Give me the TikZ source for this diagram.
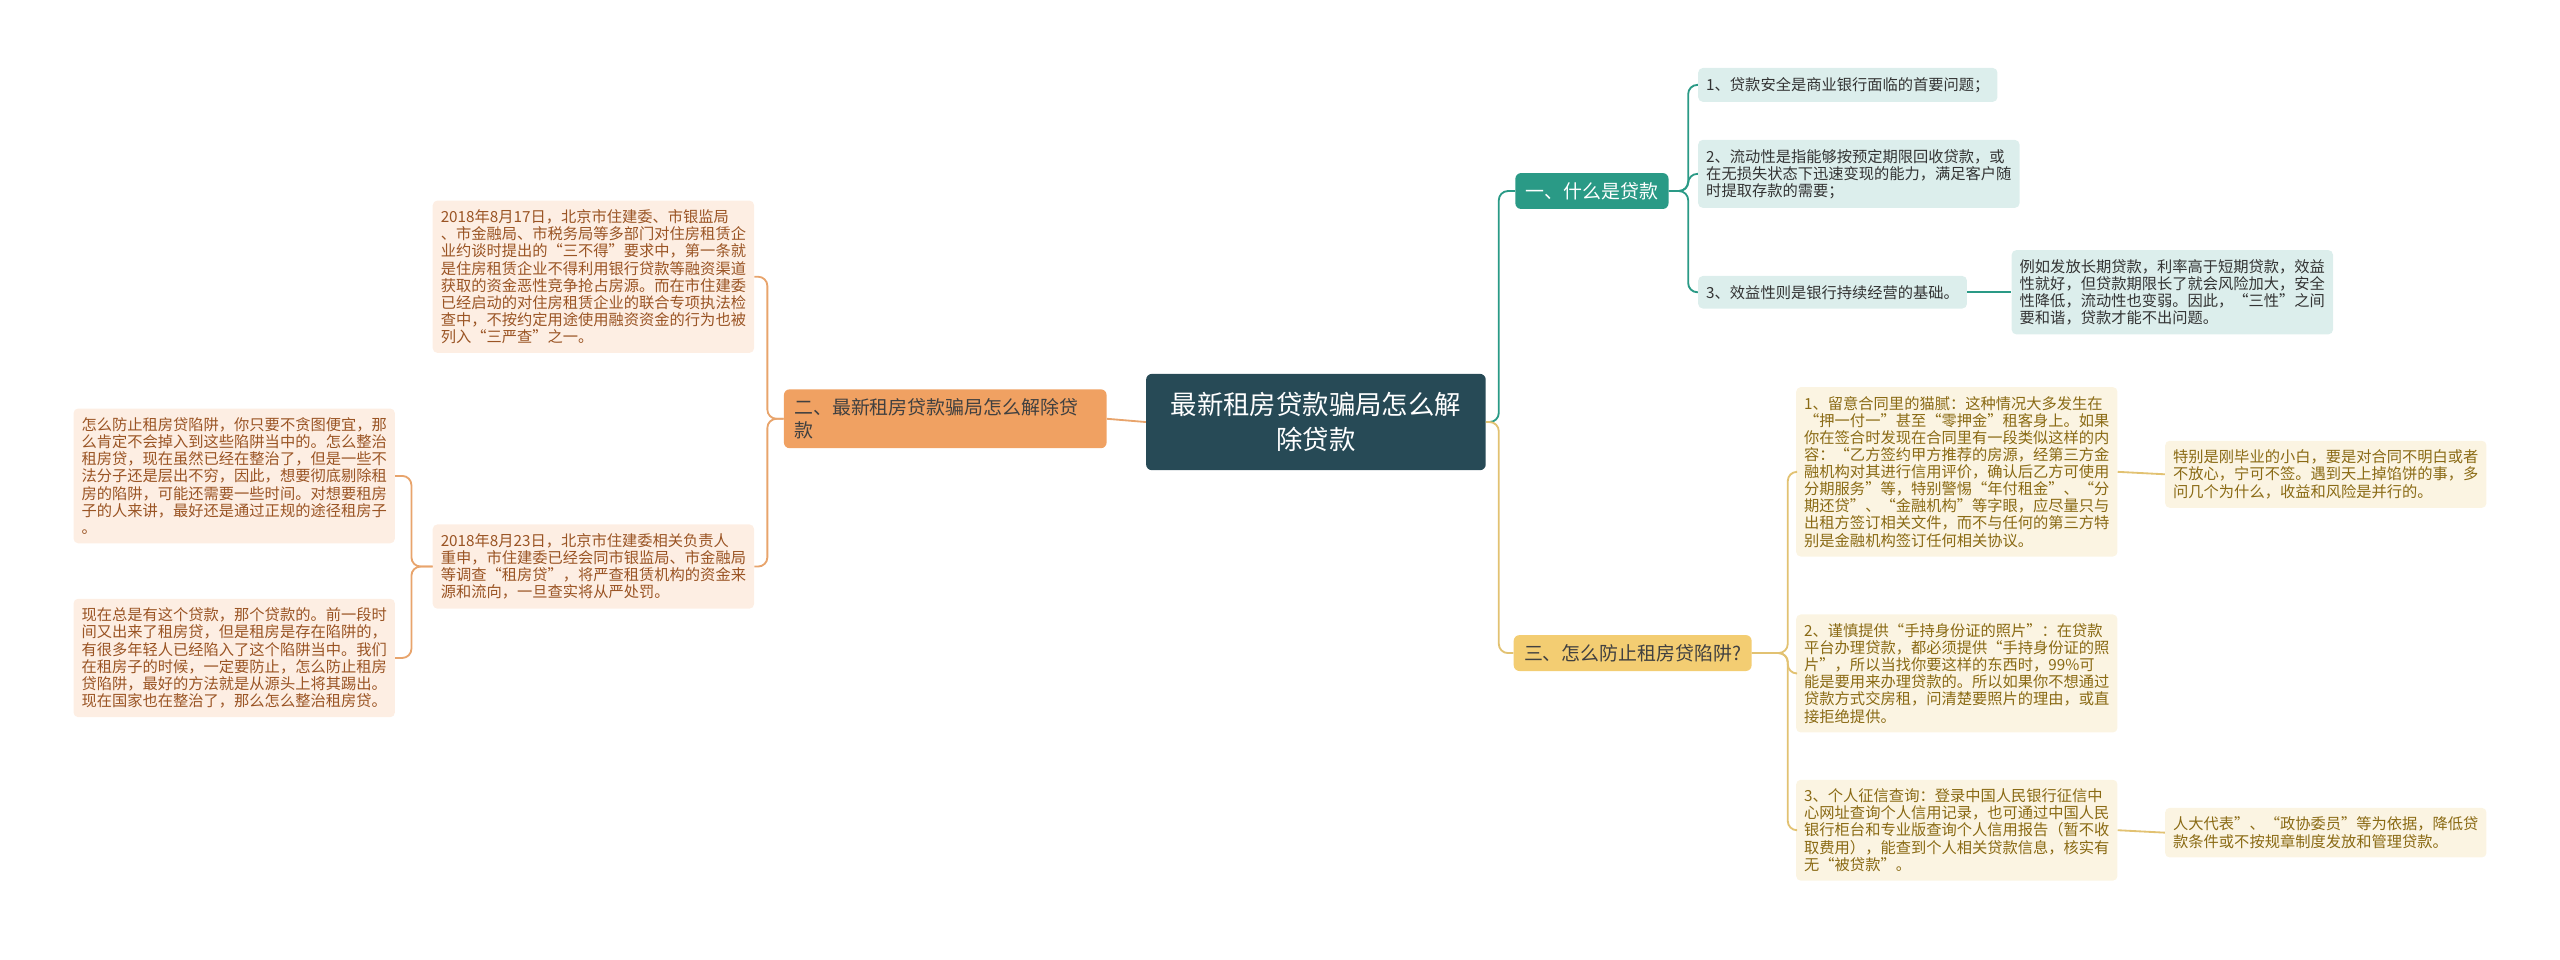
\documentclass[tikz,border=0pt]{standalone}
\usepackage{fontspec}
\setmainfont{Noto Sans CJK SC}
\definecolor{rootc}{HTML}{274A56}
\definecolor{tealc}{HTML}{2A9A86}
\definecolor{teallt}{HTML}{DCEEEC}
\definecolor{orc}{HTML}{F0A162}
\definecolor{orl}{HTML}{E8A46C}
\definecolor{orlt}{HTML}{FDEEE3}
\definecolor{ortx}{HTML}{9A5424}
\definecolor{yec}{HTML}{F3CD72}
\definecolor{yel}{HTML}{E2C272}
\definecolor{yelt}{HTML}{FBF4E2}
\definecolor{yetx}{HTML}{8A6A14}
\tikzset{
 leaf/.style={rounded corners=4pt, inner xsep=7pt, inner ysep=8pt, align=left, anchor=west,
   font=\fontsize{13.3}{14.9}\selectfont},
 tleaf/.style={leaf, fill=teallt, text=black!80},
 oleaf/.style={leaf, fill=orlt, text=ortx},
 yleaf/.style={leaf, fill=yelt, text=yetx},
 branch/.style={rounded corners=5pt, inner xsep=9pt, inner ysep=8pt, align=left, anchor=west,
   font=\fontsize{16.5}{20}\selectfont},
 tl/.style={draw=tealc, line width=1.6pt, rounded corners=8pt},
 ol/.style={draw=orl, line width=1.6pt, rounded corners=8pt},
 yl/.style={draw=yel, line width=1.6pt, rounded corners=8pt},
}
\begin{document}
\begin{tikzpicture}[x=0.05cm, y=-0.05cm]
\useasboundingbox (0,0) rectangle (1568,588);
% root
\node[fill=rootc, text=white, rounded corners=5pt, align=center, minimum width=208*0.05cm, minimum height=59*0.05cm,
  font=\fontsize{23}{30}\selectfont] (root) at (806,258.5) {最新租房贷款骗局怎么解\\除贷款};
% branches
\node[branch, fill=tealc, text=white] (b1) at (928,117) {一、什么是贷款};
\node[branch, fill=orc, text=black!75, text width=185*0.05cm] (b2) at (480,256.5) {二、最新租房贷款骗局怎么解除贷\\款};
\node[branch, fill=yec, text=black!75] (b3) at (927,400) {三、怎么防止租房贷陷阱?};
% teal leaves
\node[tleaf] (c1) at (1040,52) {1、贷款安全是商业银行面临的首要问题；};
\node[tleaf] (c2) at (1040,106.5) {2、流动性是指能够按预定期限回收贷款，或\\在无损失状态下迅速变现的能力，满足客户随\\时提取存款的需要；};
\node[tleaf] (c3) at (1040,179) {3、效益性则是银行持续经营的基础。};
\node[tleaf] (c3c) at (1232,179) {例如发放长期贷款，利率高于短期贷款，效益\\性就好，但贷款期限长了就会风险加大，安全\\性降低，流动性也变弱。因此，“三性”之间\\要和谐，贷款才能不出问题。};
% orange leaves
\node[oleaf, anchor=east] (oa) at (462,169.5) {2018年8月17日，北京市住建委、市银监局\\、市金融局、市税务局等多部门对住房租赁企\\业约谈时提出的“三不得”要求中，第一条就\\是住房租赁企业不得利用银行贷款等融资渠道\\获取的资金恶性竞争抢占房源。而在市住建委\\已经启动的对住房租赁企业的联合专项执法检\\查中，不按约定用途使用融资资金的行为也被\\列入“三严查”之一。};
\node[oleaf, anchor=east] (ob) at (462,347) {2018年8月23日，北京市住建委相关负责人\\重申，市住建委已经会同市银监局、市金融局\\等调查“租房贷”，将严查租赁机构的资金来\\源和流向，一旦查实将从严处罚。};
\node[oleaf, anchor=east] (ol1) at (242,291.5) {怎么防止租房贷陷阱，你只要不贪图便宜，那\\么肯定不会掉入到这些陷阱当中的。怎么整治\\租房贷，现在虽然已经在整治了，但是一些不\\法分子还是层出不穷，因此，想要彻底剔除租\\房的陷阱，可能还需要一些时间。对想要租房\\子的人来讲，最好还是通过正规的途径租房子\\。};
\node[oleaf, anchor=east] (ol2) at (242,403) {现在总是有这个贷款，那个贷款的。前一段时\\间又出来了租房贷，但是租房是存在陷阱的，\\有很多年轻人已经陷入了这个陷阱当中。我们\\在租房子的时候，一定要防止，怎么防止租房\\贷陷阱，最好的方法就是从源头上将其踢出。\\现在国家也在整治了，那么怎么整治租房贷。};
% yellow leaves
\node[yleaf] (d1) at (1100,289) {1、留意合同里的猫腻：这种情况大多发生在\\“押一付一”甚至“零押金”租客身上。如果\\你在签合时发现在合同里有一段类似这样的内\\容：“乙方签约甲方推荐的房源，经第三方金\\融机构对其进行信用评价，确认后乙方可使用\\分期服务”等，特别警惕“年付租金”、“分\\期还贷”、“金融机构”等字眼，应尽量只与\\出租方签订相关文件，而不与任何的第三方特\\别是金融机构签订任何相关协议。};
\node[yleaf] (d1c) at (1326,290.5) {特别是刚毕业的小白，要是对合同不明白或者\\不放心，宁可不签。遇到天上掉馅饼的事，多\\问几个为什么，收益和风险是并行的。};
\node[yleaf] (d2) at (1100,412.5) {2、谨慎提供“手持身份证的照片”：在贷款\\平台办理贷款，都必须提供“手持身份证的照\\片”，所以当找你要这样的东西时，99\%可\\能是要用来办理贷款的。所以如果你不想通过\\贷款方式交房租，问清楚要照片的理由，或直\\接拒绝提供。};
\node[yleaf] (d3) at (1100,508.5) {3、个人征信查询：登录中国人民银行征信中\\心网址查询个人信用记录，也可通过中国人民\\银行柜台和专业版查询个人信用报告（暂不收\\取费用），能查到个人相关贷款信息，核实有\\无“被贷款”。};
\node[yleaf] (d3c) at (1326,510) {人大代表”、“政协委员”等为依据，降低贷\\款条件或不按规章制度发放和管理贷款。};
% connectors
\coordinate (jr) at (918,258.5);
\draw[tl] (root.east) -- (jr) |- (b1.west);
\draw[yl] (root.east) -- (jr) |- (b3.west);
\draw[ol] (root.west) -- (b2.east);
\coordinate (jt) at (1034,117);
\draw[tl] (b1.east) -- (jt) |- (c1.west);
\draw[tl] (b1.east) -- (jt) |- (c2.west);
\draw[tl] (b1.east) -- (jt) |- (c3.west);
\draw[tl] (c3.east) -- (c3c.west);
\coordinate (jo) at (470,256.5);
\draw[ol] (b2.west) -- (jo) |- (oa.east);
\draw[ol] (b2.west) -- (jo) |- (ob.east);
\coordinate (jo2) at (252,347);
\draw[ol] (ob.west) -- (jo2) |- (ol1.east);
\draw[ol] (ob.west) -- (jo2) |- (ol2.east);
\coordinate (jy) at (1095,400);
\draw[yl] (b3.east) -- (jy) |- (d1.west);
\draw[yl] (b3.east) -- (jy) |- (d2.west);
\draw[yl] (b3.east) -- (jy) |- (d3.west);
\draw[yl] (d1.east) -- (d1c.west);
\draw[yl] (d3.east) -- (d3c.west);
\end{tikzpicture}
\end{document}
